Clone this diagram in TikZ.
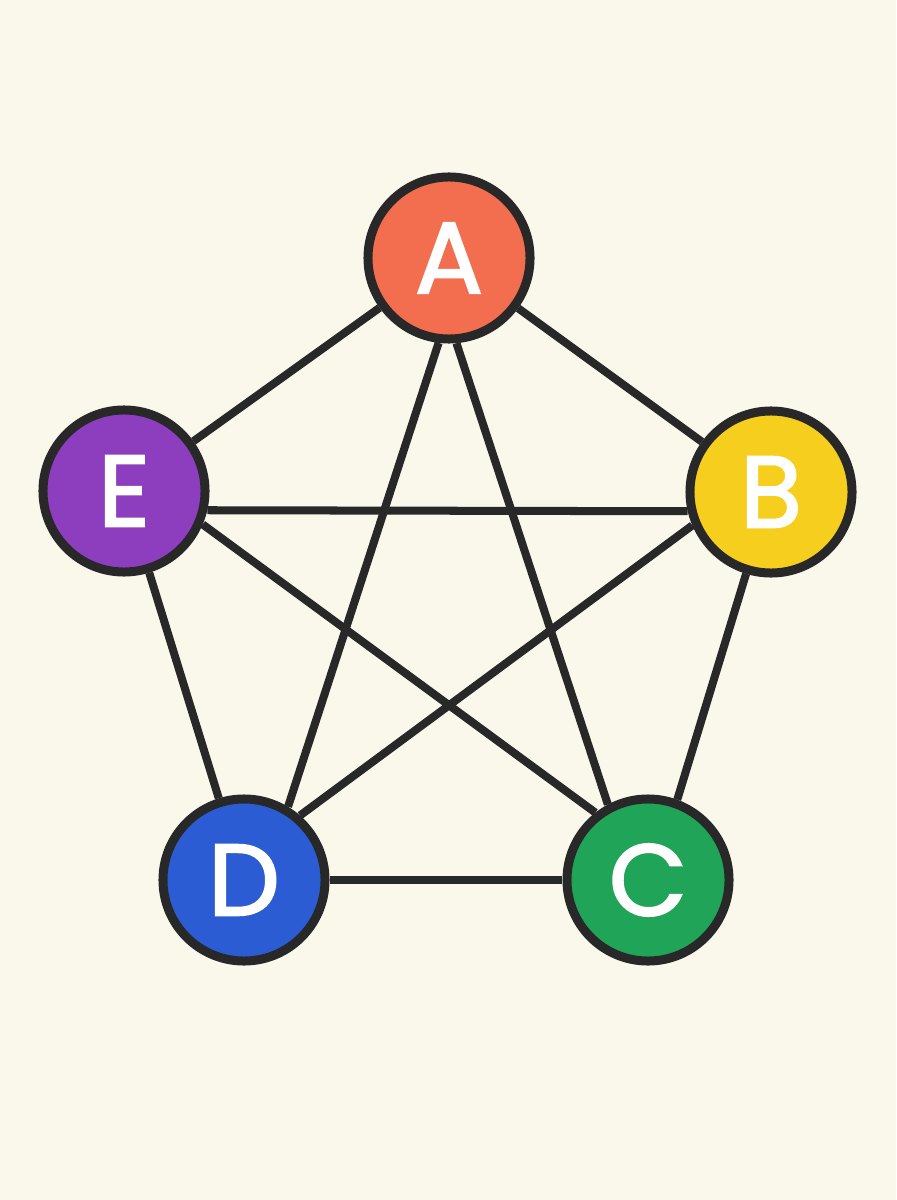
\documentclass[tikz,border=0pt]{standalone}
\usepackage{fontspec}
\setmainfont{Poppins}
\newfontfamily\markerfont[FakeBold=2]{Poppins}

\definecolor{paper}{RGB}{250,247,235}
\definecolor{ink}{RGB}{40,40,40}
\definecolor{colA}{RGB}{242,110,78}
\definecolor{colB}{RGB}{246,206,30}
\definecolor{colC}{RGB}{32,165,88}
\definecolor{colD}{RGB}{44,92,212}
\definecolor{colE}{RGB}{140,62,190}

\begin{document}
\begin{tikzpicture}[x=0.025cm,y=-0.025cm,
  vertex/.style={circle,draw=ink,line width=6.4pt,minimum size=4.05cm,inner sep=0pt,
    text=white,font=\markerfont\fontsize{72}{80}\selectfont},
  link/.style={draw=ink,line width=5.7pt}]
\fill[paper] (0,0) rectangle (896,1200);
\useasboundingbox (0,0) rectangle (896,1200);

\node[vertex,fill=colA] (a) at (449,258) {A};
\node[vertex,fill=colB] (b) at (771,492) {B};
\node[vertex,fill=colC] (c) at (648,880) {C};
\node[vertex,fill=colD] (d) at (244,880) {D};
\node[vertex,fill=colE] (e) at (124,491) {E};

% outer ring
\path[link] (a) edge (b);
\path[link] (b) edge (c.70);
\path[link] (c) edge (d);
\path[link] (d) edge (e);
\path[link] (e) edge (a);
% star
\path[link] (a.-85) edge (c.118);
\path[link] (a.-97) edge (d.59);
\path[link] (b.203) edge (d.49);
\path[link] (b.193) edge (e.-13);
\path[link] (c.128) edge (e.-23);
\end{tikzpicture}
\end{document}
